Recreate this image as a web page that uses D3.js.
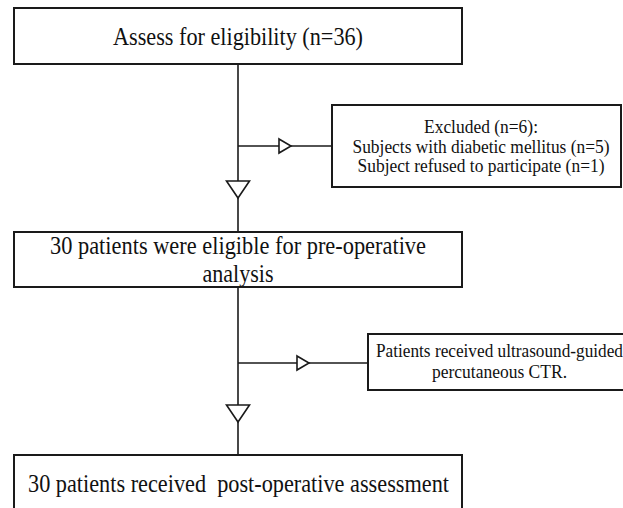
<!DOCTYPE html>
<html>
<head>
<meta charset="utf-8">
<script src="https://cdn.jsdelivr.net/npm/d3@7"></script>
<style>
  html, body { margin: 0; padding: 0; background: #fff; }
  svg { display: block; }
  svg text.lbl { font-family: "Liberation Serif"; }
</style>
</head>
<body>
<svg id="chart" width="623" height="508"></svg>
<script>
// ---- data (text content of the flow chart) ----
const mainSteps = [
  ["Assess for eligibility (n=36)"],
  ["30 patients were eligible for pre-operative", "analysis"],
  ["30 patients received \u00a0post-operative assessment"]
];
const sideSteps = [
  ["Excluded (n=6):", "Subjects with diabetic mellitus (n=5)", "Subject refused to participate (n=1)"],
  ["Patients received ultrasound-guided", "percutaneous CTR."]
];
const counts = [36, 30, 30];

// ---- layout ----
const spineX = 238;
const mainLayout = [
  { x: 14, y: 8,   w: 448, h: 56,  cx: 238, size: 25, baselines: [45],      widths: [250] },
  { x: 14, y: 232, w: 448, h: 55,  cx: 238, size: 25, baselines: [254, 282], widths: [376, 71] },
  { x: 14, y: 455, w: 448, h: 80,  cx: 238.5, size: 25, baselines: [492],   widths: [421] }
];
const sideLayout = [
  { x: 332, y: 105, w: 289, h: 82, cx: 481, size: 19, baselines: [133, 153, 172], widths: [114, 257, 247], branchY: 146, arrowX: 279 },
  { x: 368, y: 334, w: 263, h: 56, cx: 499.5, size: 19, baselines: [357, 378], widths: [247, 135], branchY: 363, arrowX: 297 }
];
const downArrows = [181, 405];
const ink = "#1a1a1a";
const strokeW = 1.6;

const svg = d3.select("#chart");

// spine segments between main boxes
const spineSegs = d3.pairs(mainLayout).map(([a, b]) => [a.y + a.h, b.y]);
svg.append("g").selectAll("line").data(spineSegs).join("line")
  .attr("x1", spineX).attr("x2", spineX)
  .attr("y1", d => d[0]).attr("y2", d => d[1])
  .attr("stroke", ink).attr("stroke-width", strokeW);

// branches to side boxes
svg.append("g").selectAll("line").data(sideLayout).join("line")
  .attr("x1", spineX).attr("x2", d => d.x)
  .attr("y1", d => d.branchY).attr("y2", d => d.branchY)
  .attr("stroke", ink).attr("stroke-width", strokeW);

// boxes
function drawBoxes(layout, texts, cls) {
  const g = svg.append("g").attr("class", cls);
  const box = g.selectAll("g").data(layout.map((l, i) => ({ l, lines: texts[i] }))).join("g");
  box.append("rect")
    .attr("x", d => d.l.x).attr("y", d => d.l.y)
    .attr("width", d => d.l.w).attr("height", d => d.l.h)
    .attr("fill", "#fff").attr("stroke", ink).attr("stroke-width", 2);
  box.each(function (d) {
    d3.select(this).selectAll("text").data(d.lines.map((t, j) => ({ t, j, l: d.l }))).join("text")
      .attr("class", "lbl")
      .attr("x", e => e.l.cx)
      .attr("y", e => e.l.baselines[e.j])
      .attr("text-anchor", "middle")
      .attr("font-size", e => e.l.size)
      .attr("fill", "#111")
      .attr("textLength", e => e.l.widths[e.j])
      .attr("lengthAdjust", "spacingAndGlyphs")
      .text(e => e.t);
  });
}
drawBoxes(mainLayout, mainSteps, "main");
drawBoxes(sideLayout, sideSteps, "side");

// open triangle arrow heads
svg.append("g").selectAll("path").data(downArrows).join("path")
  .attr("d", y => `M${spineX - 11.5},${y} L${spineX + 11.5},${y} L${spineX},${y + 17} Z`)
  .attr("fill", "#fff").attr("stroke", ink).attr("stroke-width", strokeW);

svg.append("g").selectAll("path").data(sideLayout).join("path")
  .attr("d", d => `M${d.arrowX},${d.branchY - 7} L${d.arrowX + 12},${d.branchY} L${d.arrowX},${d.branchY + 7} Z`)
  .attr("fill", "#fff").attr("stroke", ink).attr("stroke-width", strokeW);
</script>
</body>
</html>
